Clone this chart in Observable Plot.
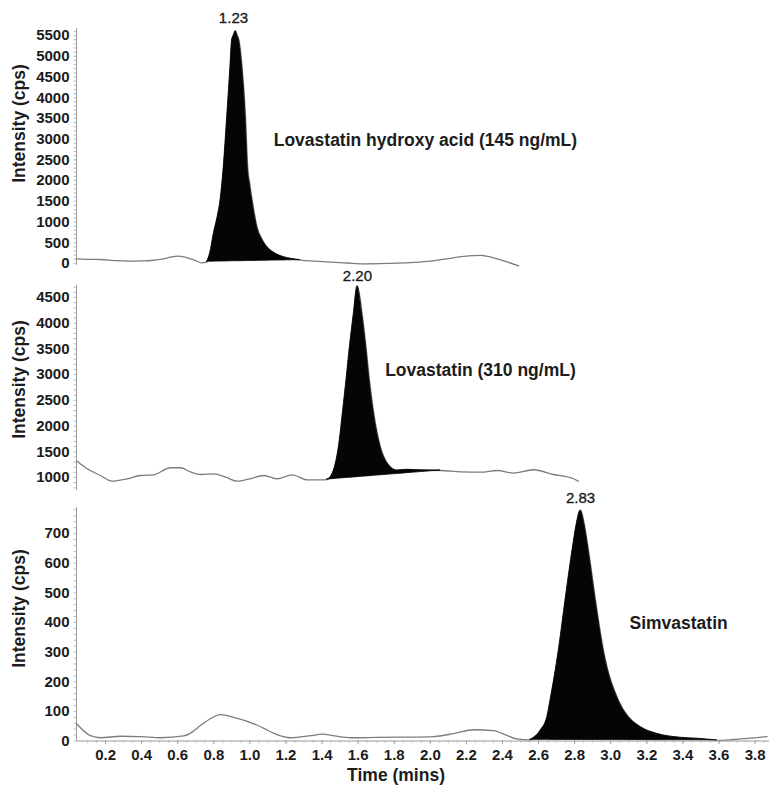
<!DOCTYPE html>
<html><head><meta charset="utf-8">
<script src="https://cdn.jsdelivr.net/npm/d3@7"></script>
<script src="https://cdn.jsdelivr.net/npm/@observablehq/plot@0.6"></script>
<style>
body{margin:0;background:#fff;}
#chart{position:relative;width:769px;height:785px;background:#fff;}
</style></head><body><div id="chart"></div>
<script>
// ---- data ----
const xTicks = [0.2,0.4,0.6,0.8,1.0,1.2,1.4,1.6,1.8,2.0,2.2,2.4,2.6,2.8,3.0,3.2,3.4,3.6,3.8];

// Panel 1: Lovastatin hydroxy acid
const time1 = [0.04,0.10,0.17,0.25,0.32,0.40,0.45,0.52,0.56,0.60,0.64,0.67,0.70,0.73,0.763,0.78,0.80,0.82,0.837,0.855,0.874,0.892,0.901,0.912,0.921,0.93,0.94,0.957,0.976,0.988,1.0,1.013,1.04,1.07,1.096,1.14,1.188,1.23,1.28,1.36,1.447,1.54,1.631,1.72,1.816,1.91,2.0,2.09,2.186,2.278,2.37,2.43,2.49];
const sig1  = [112,100,95,70,55,62,71,112,150,176,150,112,70,15,40,250,716,1100,1520,2323,3530,4737,5380,5520,5607,5500,5380,4737,3530,2323,1900,1520,876,560,393,240,152,110,80,55,31,10,-9,-5,6,25,55,110,168,192,112,30,-60];
const yTicks1 = [0,500,1000,1500,2000,2500,3000,3500,4000,4500,5000,5500];

// Panel 2: Lovastatin
const time2 = [0.043,0.098,0.172,0.237,0.32,0.394,0.467,0.56,0.615,0.67,0.726,0.80,0.87,0.93,1.0,1.077,1.151,1.234,1.318,1.391,1.428,1.447,1.471,1.493,1.515,1.535,1.554,1.576,1.596,1.622,1.644,1.663,1.687,1.724,1.764,1.816,1.87,1.95,2.057,2.17,2.278,2.372,2.461,2.572,2.683,2.794,2.82];
const sig2  = [1317,1169,1039,928,975,1039,1052,1189,1189,1110,1058,1072,1000,928,975,1039,975,1052,955,955,960,1006,1200,1589,2244,2886,3534,4183,4720,4183,3534,2886,2244,1589,1266,1136,1150,1140,1136,1110,1103,1136,1084,1150,1058,975,928];
const yTicks2 = [1000,1500,2000,2500,3000,3500,4000,4500];

// Panel 3: Simvastatin
const time3 = [0.04,0.116,0.172,0.283,0.394,0.504,0.634,0.68,0.726,0.78,0.837,0.911,1.022,1.08,1.133,1.225,1.336,1.40,1.47,1.558,1.70,1.835,2.02,2.13,2.24,2.35,2.42,2.48,2.555,2.611,2.648,2.666,2.712,2.749,2.788,2.81,2.833,2.855,2.877,2.916,2.96,3.043,3.10,3.165,3.258,3.387,3.5,3.59,3.68,3.78,3.867];
const sig3  = [58,18,11,16,15,11,17,30,52,75,89,80,58,42,26,11,18,23,17,11,12,13,15,25,38,35,20,7,4,35,80,137,305,474,643,727,778,727,643,474,305,137,80,47,24,11,7,2,5,10,15];
const yTicks3 = [0,100,200,300,400,500,600,700];

// peak windows [start time, end time] and fill baselines [value at start, value at end]
const peakWin1 = [0.763, 1.28],  peakBase1 = [40, 80];
const peakWin2 = [1.428, 2.057], peakBase2 = [960, 1136];
const peakWin3 = [2.555, 3.59],  peakBase3 = [4, 2];

const peakLabels = ["1.23", "2.20", "2.83"];
const names = ["Lovastatin hydroxy acid (145 ng/mL)", "Lovastatin (310 ng/mL)", "Simvastatin"];
const yTitle = "Intensity (cps)";
const xTitle = "Time (mins)";

// ---- drawing ----
const FONT = "'Liberation Sans', Arial, Helvetica, sans-serif";
const XDOM = [0.039, 3.88];
const TXT = "#1c1c1c";
const rows = (t, v) => t.map((d, i) => ({t: d, v: v[i]}));

function panel(o) {
  const data = rows(o.time, o.sig);
  const [w0, w1] = o.win, [b0, b1] = o.base;
  const fillData = data.filter(d => d.t >= w0 - 1e-9 && d.t <= w1 + 1e-9);
  const baseAt = d => b0 + (b1 - b0) * (d.t - w0) / (w1 - w0);
  const xmin = XDOM[0];
  const minor = d3.range(o.yDomain[0] <= 0 ? 0 : Math.ceil(o.yDomain[0] / o.minor) * o.minor, o.yDomain[1], o.minor);
  const marks = [
    Plot.ruleX([xmin], {y1: o.yDomain[0], y2: o.yDomain[1], stroke: "#9a9a9a", strokeWidth: 1}),
    Plot.ruleY(minor, {y: d => d, x1: xmin - 0.014, x2: xmin, stroke: "#b0b0b0", strokeWidth: 0.8}),
    Plot.line(data, {x: "t", y: "v", curve: "monotone-x", stroke: "#7c7c7c", strokeWidth: 1.3}),
    Plot.areaY(fillData, {x: "t", y1: baseAt, y2: "v", curve: "monotone-x", fill: "#050505", stroke: "#050505", strokeWidth: 0.8}),
    Plot.text([o.peakLabel], {x: o.plx, y: o.ply, text: d => d, fontSize: 15, fontWeight: "normal", fill: TXT, stroke: TXT, strokeWidth: 0.35}),
    Plot.text([o.name], {x: o.nx, y: o.ny, text: d => d, fontSize: 17.5, fontWeight: "bold", fill: TXT}),
    Plot.text([yTitle], {x: -0.277, y: o.yly, textAnchor: "middle", rotate: -90, text: d => d, fontSize: 17.5, fontWeight: "bold", fill: TXT})
  ];
  if (o.xAxis) {
    const xminor = d3.range(0.1, 3.88, 0.05).map(d => Math.round(d * 100) / 100);
    marks.push(
      Plot.ruleY([0], {x1: XDOM[0], x2: XDOM[1], stroke: "#9a9a9a", strokeWidth: 1}),
      Plot.ruleX(xminor, {x: d => d, y1: 0, y2: -8, stroke: "#b0b0b0", strokeWidth: 0.8}),
      Plot.ruleX(xTicks, {x: d => d, y1: 0, y2: -12, stroke: "#9a9a9a", strokeWidth: 0.9}),
      Plot.text([xTitle], {x: 1.81, y: -116, text: d => d, fontSize: 17.5, fontWeight: "bold", fill: TXT})
    );
  }
  return Plot.plot({
    width: 769, height: o.height,
    marginLeft: 76, marginRight: 0, marginTop: o.mt, marginBottom: o.mb,
    x: o.xAxis
      ? {domain: XDOM, ticks: xTicks, tickFormat: d3.format(".1f"), tickSize: 0, tickPadding: 8, label: null}
      : {domain: XDOM, axis: null},
    y: {domain: o.yDomain, ticks: o.yTicks, tickFormat: d => String(d), tickSize: 0, tickPadding: 7, label: null},
    style: {position: "absolute", left: "0px", top: o.top + "px", overflow: "visible", background: "transparent",
            fontFamily: FONT, fontSize: "15px", fontWeight: "bold", color: TXT},
    marks
  });
}

const chart = document.getElementById("chart");
chart.append(panel({
  time: time1, sig: sig1, win: peakWin1, base: peakBase1, yTicks: yTicks1, minor: 100,
  yDomain: [-50, 5670], top: 0, height: 268, mt: 28, mb: 3,
  peakLabel: peakLabels[0], plx: 0.909, ply: 5911,
  name: names[0], nx: 1.973, ny: 2967, yly: 3377
}));
chart.append(panel({
  time: time2, sig: sig2, win: peakWin2, base: peakBase2, yTicks: yTicks2, minor: 100,
  yDomain: [747, 4733], top: 268, height: 222, mt: 17, mb: 0,
  peakLabel: peakLabels[1], plx: 1.596, ply: 4908,
  name: names[1], nx: 2.278, ny: 3080, yly: 2905
}));
chart.append(panel({
  time: time3, sig: sig3, win: peakWin3, base: peakBase3, yTicks: yTicks3, minor: 20,
  yDomain: [0, 788], top: 490, height: 295, mt: 17, mb: 44.5, xAxis: true,
  peakLabel: peakLabels[2], plx: 2.833, ply: 820,
  name: names[2], nx: 3.376, ny: 396.5, yly: 447
}));
</script></body></html>
